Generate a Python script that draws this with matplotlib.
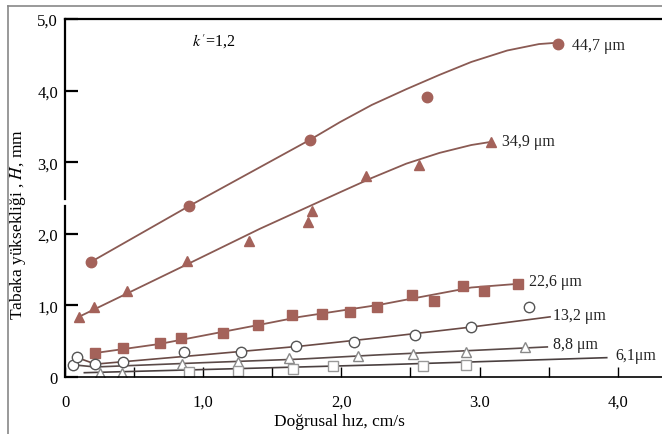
# Tabaka yüksekliği - doğrusal hız grafiği
import numpy as np
import matplotlib.pyplot as plt
from matplotlib.lines import Line2D

plt.rcParams['font.family'] = ['Liberation Serif', 'DejaVu Serif']
plt.rcParams['mathtext.fontset'] = 'stix'

# VERİLER (noktalar)
x_447 = [0.19, 0.90, 1.77, 2.62, 3.57]
y_447 = [1.61, 2.39, 3.31, 3.91, 4.65]

x_349 = [0.10, 0.21, 0.45, 0.88, 1.33, 1.76, 1.79, 2.18, 2.56, 3.08]
y_349 = [0.84, 0.98, 1.20, 1.62, 1.90, 2.17, 2.32, 2.81, 2.96, 3.28]

x_226 = [0.22, 0.42, 0.69, 0.84, 1.14, 1.40, 1.64, 1.86, 2.06, 2.26, 2.51, 2.67, 2.88, 3.03, 3.28]
y_226 = [0.34, 0.40, 0.47, 0.54, 0.61, 0.73, 0.87, 0.88, 0.91, 0.98, 1.15, 1.06, 1.27, 1.20, 1.30]

x_132 = [0.06, 0.09, 0.22, 0.42, 0.86, 1.27, 1.67, 2.09, 2.53, 2.94, 3.36]
y_132 = [0.17, 0.28, 0.18, 0.21, 0.35, 0.35, 0.43, 0.49, 0.59, 0.70, 0.98]

x_88 = [0.25, 0.41, 0.85, 1.25, 1.62, 2.12, 2.52, 2.90, 3.33]
y_88 = [0.06, 0.06, 0.18, 0.21, 0.27, 0.29, 0.32, 0.35, 0.42]

x_61 = [0.90, 1.25, 1.65, 1.94, 2.59, 2.90]
y_61 = [0.07, 0.08, 0.11, 0.15, 0.15, 0.17]

# Elle çizilmiş eğriler (grafikten okunan noktalar)
cx_447 = [0.19, 0.90, 1.77, 1.99, 2.22, 2.47, 2.71, 2.94, 3.20, 3.43, 3.57]
cy_447 = [1.61, 2.39, 3.31, 3.56, 3.80, 4.02, 4.22, 4.40, 4.56, 4.65, 4.67]

cx_349 = [0.10, 0.88, 1.41, 1.99, 2.22, 2.47, 2.71, 2.94, 3.07]
cy_349 = [0.84, 1.57, 2.07, 2.58, 2.78, 2.98, 3.13, 3.24, 3.28]

cx_226 = [0.20, 0.68, 1.41, 1.70, 2.28, 2.47, 2.94, 3.27]
cy_226 = [0.33, 0.46, 0.73, 0.84, 1.01, 1.08, 1.25, 1.30]

cx_132 = [0.09, 0.22, 1.00, 1.70, 2.28, 2.95, 3.51]
cy_132 = [0.27, 0.18, 0.31, 0.43, 0.55, 0.70, 0.84]

cx_88 = [0.06, 0.22, 1.00, 1.70, 2.28, 3.49]
cy_88 = [0.17, 0.14, 0.20, 0.25, 0.31, 0.42]

cx_61 = [0.14, 1.70, 2.28, 3.92]
cy_61 = [0.06, 0.14, 0.17, 0.27]

etiketler = ['44,7 μm', '34,9 μm', '22,6 μm', '13,2 μm', '8,8 μm', '6,1μm']
etiket_x = [3.67, 3.16, 3.36, 3.53, 3.53, 3.98]
etiket_y = [4.64, 3.30, 1.34, 0.87, 0.46, 0.31]

xt = [0, 1, 2, 3, 4]
xt_lab = ['0', '1,0', '2,0', '3.0', '4,0']
yt = [0, 1, 2, 3, 4, 5]
yt_lab = ['0', '1,0', '2,0', '3,0', '4,0', '5,0']

# Grafik
kahve = '#a4625a'
cizgi = '#8a5a53'

fig = plt.figure(figsize=(6.62, 4.35), dpi=100)
ax = fig.add_axes([65/662, 1-378/435, 1-65/662, 358/435])

ax.plot(cx_447, cy_447, color=cizgi, lw=1.3)
ax.plot(cx_349, cy_349, color=cizgi, lw=1.3)
ax.plot(cx_226, cy_226, color=cizgi, lw=1.3)
ax.plot(cx_132, cy_132, color='#6a4a45', lw=1.2)
ax.plot(cx_88, cy_88, color='#5a4a48', lw=1.2)
ax.plot(cx_61, cy_61, color='#4a4040', lw=1.2)

ax.plot(x_447, y_447, 'o', color=kahve, ms=7.5, mec=kahve)
ax.plot(x_349, y_349, '^', color=kahve, ms=7.5, mec=kahve)
ax.plot(x_226, y_226, 's', color=kahve, ms=6.5, mec=kahve)
ax.plot(x_132, y_132, 'o', mfc='white', mec='#555555', ms=7.5, mew=1.0)
ax.plot(x_88, y_88, '^', mfc='white', mec='#888888', ms=7.5, mew=1.0)
ax.plot(x_61, y_61, 's', mfc='white', mec='#999999', ms=7, mew=1.0)

for t, tx, ty in zip(etiketler, etiket_x, etiket_y):
    ax.text(tx, ty, t, fontsize=11.5, va='center', ha='left', color='#222222')

ax.text(0.92, 4.69, "$k'$=1,2", fontsize=11.5, va='center', ha='left')

ax.set_xlim(0, 4.32)
ax.set_ylim(0, 5)
ax.set_xticks(xt)
ax.set_xticklabels(xt_lab)
ax.set_xticks(np.arange(0.5, 4.1, 1.0), minor=True)
ax.set_yticks(yt)
ax.set_yticklabels(yt_lab)
ax.tick_params(axis='y', direction='in', length=9.5, width=1.6, pad=5, labelsize=12)
ax.tick_params(axis='x', which='both', direction='in', length=7, width=1.0, pad=12, labelsize=12)

ax.spines['right'].set_visible(False)
ax.spines['left'].set_visible(False)
ax.spines['top'].set_linewidth(1.6)
ax.spines['bottom'].set_linewidth(1.2)

# kesik y ekseni
tr = ax.get_yaxis_transform()
ax.plot([0, 0], [0, 2.39], transform=tr, color='k', lw=1.6, clip_on=False)
ax.plot([0, 0], [2.49, 5], transform=tr, color='k', lw=1.6, clip_on=False)

ax.set_xlabel('Doğrusal hız, cm/s', fontsize=12.5)
ax.xaxis.set_label_coords(0.46, -0.1)
ax.set_ylabel('Tabaka yüksekliği , $H$, mm', fontsize=12.5)
ax.yaxis.set_label_coords(-0.062, 0.43)

# tarama çerçevesi
fig.add_artist(Line2D([8/662, 8/662], [0, 1-7/435], color='#888888', lw=1.2))
fig.add_artist(Line2D([8/662, 1], [1-7/435, 1-7/435], color='#888888', lw=1.2))

fig.savefig('out.png', dpi=100)
